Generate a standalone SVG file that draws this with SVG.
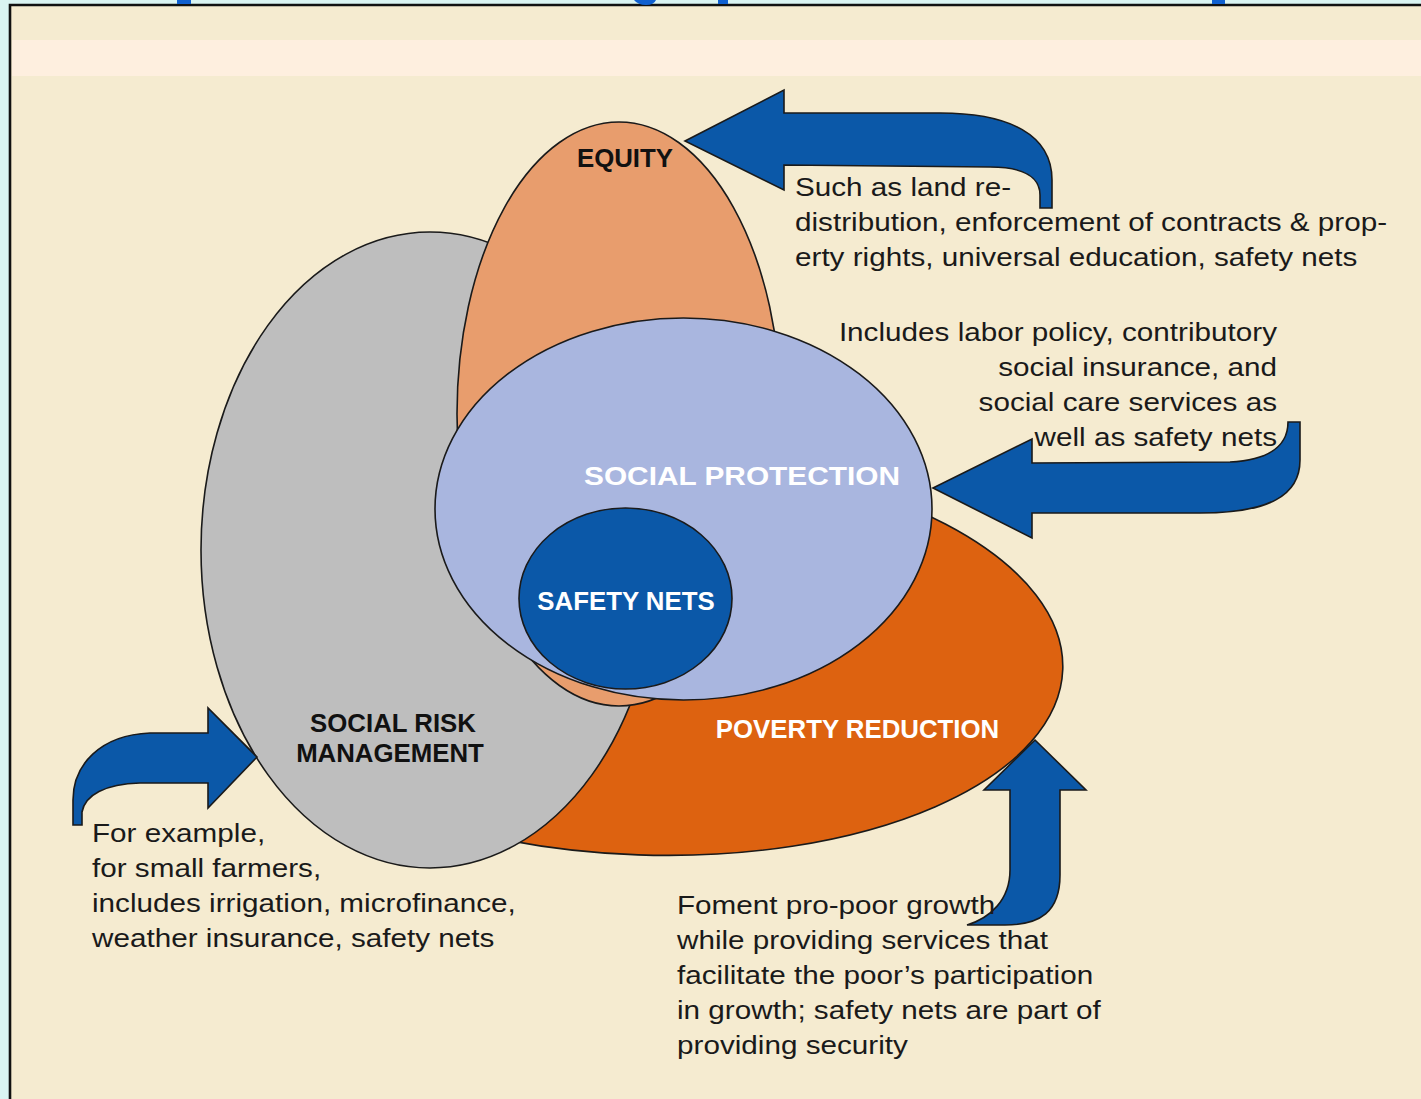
<svg xmlns="http://www.w3.org/2000/svg" width="1421" height="1099" viewBox="0 0 1421 1099">
<style>
.ell{stroke:#1a1a1a;stroke-width:1.6}
.lbl{font-family:"Liberation Sans",Arial,sans-serif;font-weight:bold;font-size:25.8px;text-anchor:middle}
.note{font-family:"Liberation Sans",Arial,sans-serif;font-size:26.5px;fill:#1a1a1a}
.arrow{fill:#0B58A8;stroke:#1a1a1a;stroke-width:1.6;stroke-linejoin:miter}
</style>
<rect x="0" y="0" width="1421" height="1099" fill="#DAF4F2"/>
<rect x="10" y="5" width="1411" height="1094" fill="#F5EBD0"/>
<rect x="12" y="40" width="1409" height="36" fill="#FEEFDF"/>
<path d="M10,1099 V5 H1421" fill="none" stroke="#111" stroke-width="2.6"/>
<g fill="#1060D0">
<rect x="177" y="0" width="14" height="4"/>
<path d="M634,0 H656 Q654,5 646,5 Q638,5 634,0 Z"/>
<rect x="718" y="0" width="10" height="4"/>
<rect x="1212" y="0" width="13" height="4"/>
</g>

<g id="poverty-reduction">
<ellipse class="ell" cx="645" cy="655" rx="418" ry="200" transform="rotate(2 645 655)" fill="#DD6210"/>
</g>
<g id="social-risk-management">
<ellipse class="ell" cx="430" cy="550" rx="229" ry="318" fill="#BEBEBE"/>
</g>
<g id="equity">
<ellipse class="ell" cx="619" cy="414" rx="162" ry="292" fill="#E89D6D"/>
</g>
<g id="social-protection">
<ellipse class="ell" cx="683.5" cy="509" rx="248.5" ry="191" fill="#A9B6DF"/>
</g>
<g id="safety-nets">
<ellipse class="ell" cx="625.5" cy="598.5" rx="106.5" ry="90.5" fill="#0B58A8"/>
</g>

<g id="labels">
<text class="lbl" x="625" y="167" fill="#111">EQUITY</text>
<text class="lbl" x="742" y="485" fill="#fff" textLength="316" lengthAdjust="spacingAndGlyphs">SOCIAL PROTECTION</text>
<text class="lbl" x="626" y="610" fill="#fff">SAFETY NETS</text>
<text class="lbl" x="393" y="732" fill="#111">SOCIAL RISK</text>
<text class="lbl" x="390" y="762" fill="#111">MANAGEMENT</text>
<text class="lbl" x="857.5" y="738" fill="#fff">POVERTY REDUCTION</text>
</g>

<g id="connectors">
<path class="arrow" d="M685,141 L784,90 L784,113 L940,113 C1010,113 1052,135 1052,180 L1052,208 L1040,208 L1040,195 C1040,178 1025,167 990,167 L784,165 L784,190 Z"/>
<path class="arrow" d="M933,488 L1032,439 L1032,463 L1230,462 C1270,460 1288,445 1288,422 L1300,422 L1300,460 C1300,495 1270,513 1200,513 L1032,513 L1032,538 Z"/>
<path class="arrow" d="M257,757 L208,708 L208,733 L150,733 C100,735 73,765 73,800 L73,825 L82,825 L82,812 C85,795 105,784 140,783 L208,783 L208,808 Z"/>
<path class="arrow" d="M1035,740 L1086,790 L1060,790 L1060,875 C1060,912 1040,925 1005,925 L967,925 C990,918 1010,900 1010,870 L1010,790 L984,790 Z"/>
</g>

<g id="note-equity" class="note">
<text transform="matrix(1.12 0 0 1 795 196)">Such as land re-</text>
<text transform="matrix(1.12 0 0 1 795 231)">distribution, enforcement of contracts &amp; prop-</text>
<text transform="matrix(1.12 0 0 1 795 266)">erty rights, universal education, safety nets</text>
</g>
<g id="note-social-protection" class="note" text-anchor="end">
<text transform="matrix(1.12 0 0 1 1277 341)">Includes labor policy, contributory</text>
<text transform="matrix(1.12 0 0 1 1277 376)">social insurance, and</text>
<text transform="matrix(1.12 0 0 1 1277 411)">social care services as</text>
<text transform="matrix(1.12 0 0 1 1277 446)">well as safety nets</text>
</g>
<g id="note-risk" class="note">
<text transform="matrix(1.12 0 0 1 92 842)">For example,</text>
<text transform="matrix(1.12 0 0 1 92 877)">for small farmers,</text>
<text transform="matrix(1.12 0 0 1 92 912)">includes irrigation, microfinance,</text>
<text transform="matrix(1.12 0 0 1 92 947)">weather insurance, safety nets</text>
</g>
<g id="note-poverty" class="note">
<text transform="matrix(1.12 0 0 1 677 914)">Foment pro-poor growth</text>
<text transform="matrix(1.12 0 0 1 677 949)">while providing services that</text>
<text transform="matrix(1.12 0 0 1 677 984)">facilitate the poor’s participation</text>
<text transform="matrix(1.12 0 0 1 677 1019)">in growth; safety nets are part of</text>
<text transform="matrix(1.12 0 0 1 677 1054)">providing security</text>
</g>
</svg>
